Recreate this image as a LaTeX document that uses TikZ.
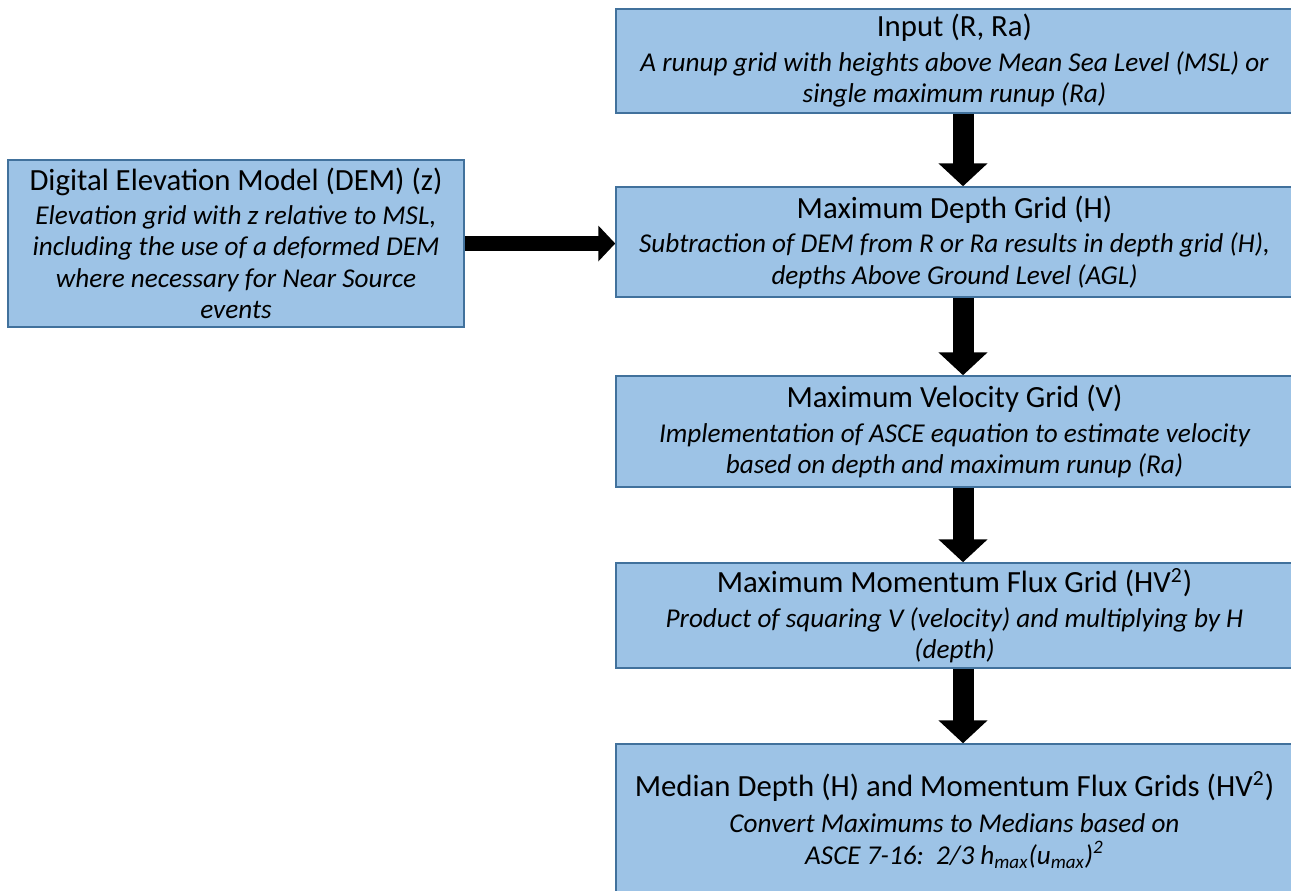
\documentclass[tikz,border=0pt]{standalone}
\usepackage{fontspec}
\setmainfont{Carlito}
\usepackage{xcolor}
\usetikzlibrary{arrows.meta}

\definecolor{boxfill}{RGB}{157,195,230}
\definecolor{boxline}{RGB}{65,113,156}
\newcommand{\boxhead}{\upshape\fontsize{15.4}{15.75}\selectfont}

\begin{document}
\begin{tikzpicture}[
  x=0.5pt, y=-0.5pt,
  stepbox/.style={rectangle, draw=boxline, line width=0.75pt, fill=boxfill, align=center, inner sep=0pt, minimum width=338.5pt, font=\itshape\fontsize{13.6}{15.75}\selectfont},
  bigarrow/.style={draw=black, line width=10.5pt, -{Triangle[length=11.5pt, width=24pt]}},
  sidearrow/.style={draw=black, line width=7.5pt, -{Triangle[length=8.5pt, width=17.5pt]}}
]
\useasboundingbox (0,0) rectangle (1291,890);
\clip (0,0) rectangle (1291,890);

% Main column boxes
\node[stepbox, minimum height=52pt] (input) at (954.5,61) {{\boxhead Input (R, Ra)}\\[1.5pt]A runup grid with heights above Mean Sea Level (MSL) or\\single maximum runup (Ra)};
\node[stepbox, minimum height=55pt] (depth) at (954.5,242) {{\boxhead Maximum Depth Grid (H)}\\[1.5pt]Subtraction of DEM from R or Ra results in depth grid (H),\\depths Above Ground Level (AGL)};
\node[stepbox, minimum height=55.5pt] (velocity) at (954.5,431.5) {{\boxhead Maximum Velocity Grid (V)}\\[1.5pt]Implementation of ASCE equation to estimate velocity\\based on depth and maximum runup (Ra)};
\node[stepbox, minimum height=52.5pt] (flux) at (954.5,615.5) {{\boxhead Maximum Momentum Flux Grid (HV\textsuperscript{2})}\\[1.5pt]Product of squaring V (velocity) and multiplying by H\\(depth)};
\node[stepbox, minimum height=76pt] (median) at (954.5,820) {{\boxhead Median Depth (H) and Momentum Flux Grids (HV\textsuperscript{2})}\\[2.5pt]Convert Maximums to Medians based on\\ASCE 7-16:\ \ 2/3 h\textsubscript{max}(u\textsubscript{max})\textsuperscript{2}};

% Side box
\node[stepbox, minimum width=228pt, minimum height=83.5pt] (dem) at (236,243.5) {{\boxhead Digital Elevation Model (DEM) (z)}\\[1pt]Elevation grid with z relative to MSL,\\including the use of a deformed DEM\\where necessary for Near Source\\events};

% Connect boxes
\draw[bigarrow] ([xshift=4.25pt]input.south) -- ([xshift=4.25pt]depth.north);
\draw[bigarrow] ([xshift=4.25pt]depth.south) -- ([xshift=4.25pt]velocity.north);
\draw[bigarrow] ([xshift=4.25pt]velocity.south) -- ([xshift=4.25pt]flux.north);
\draw[bigarrow] ([xshift=4.25pt]flux.south) -- ([xshift=4.25pt]median.north);
\draw[sidearrow] (dem.east) -- (dem.east -| depth.west);

\end{tikzpicture}
\end{document}
